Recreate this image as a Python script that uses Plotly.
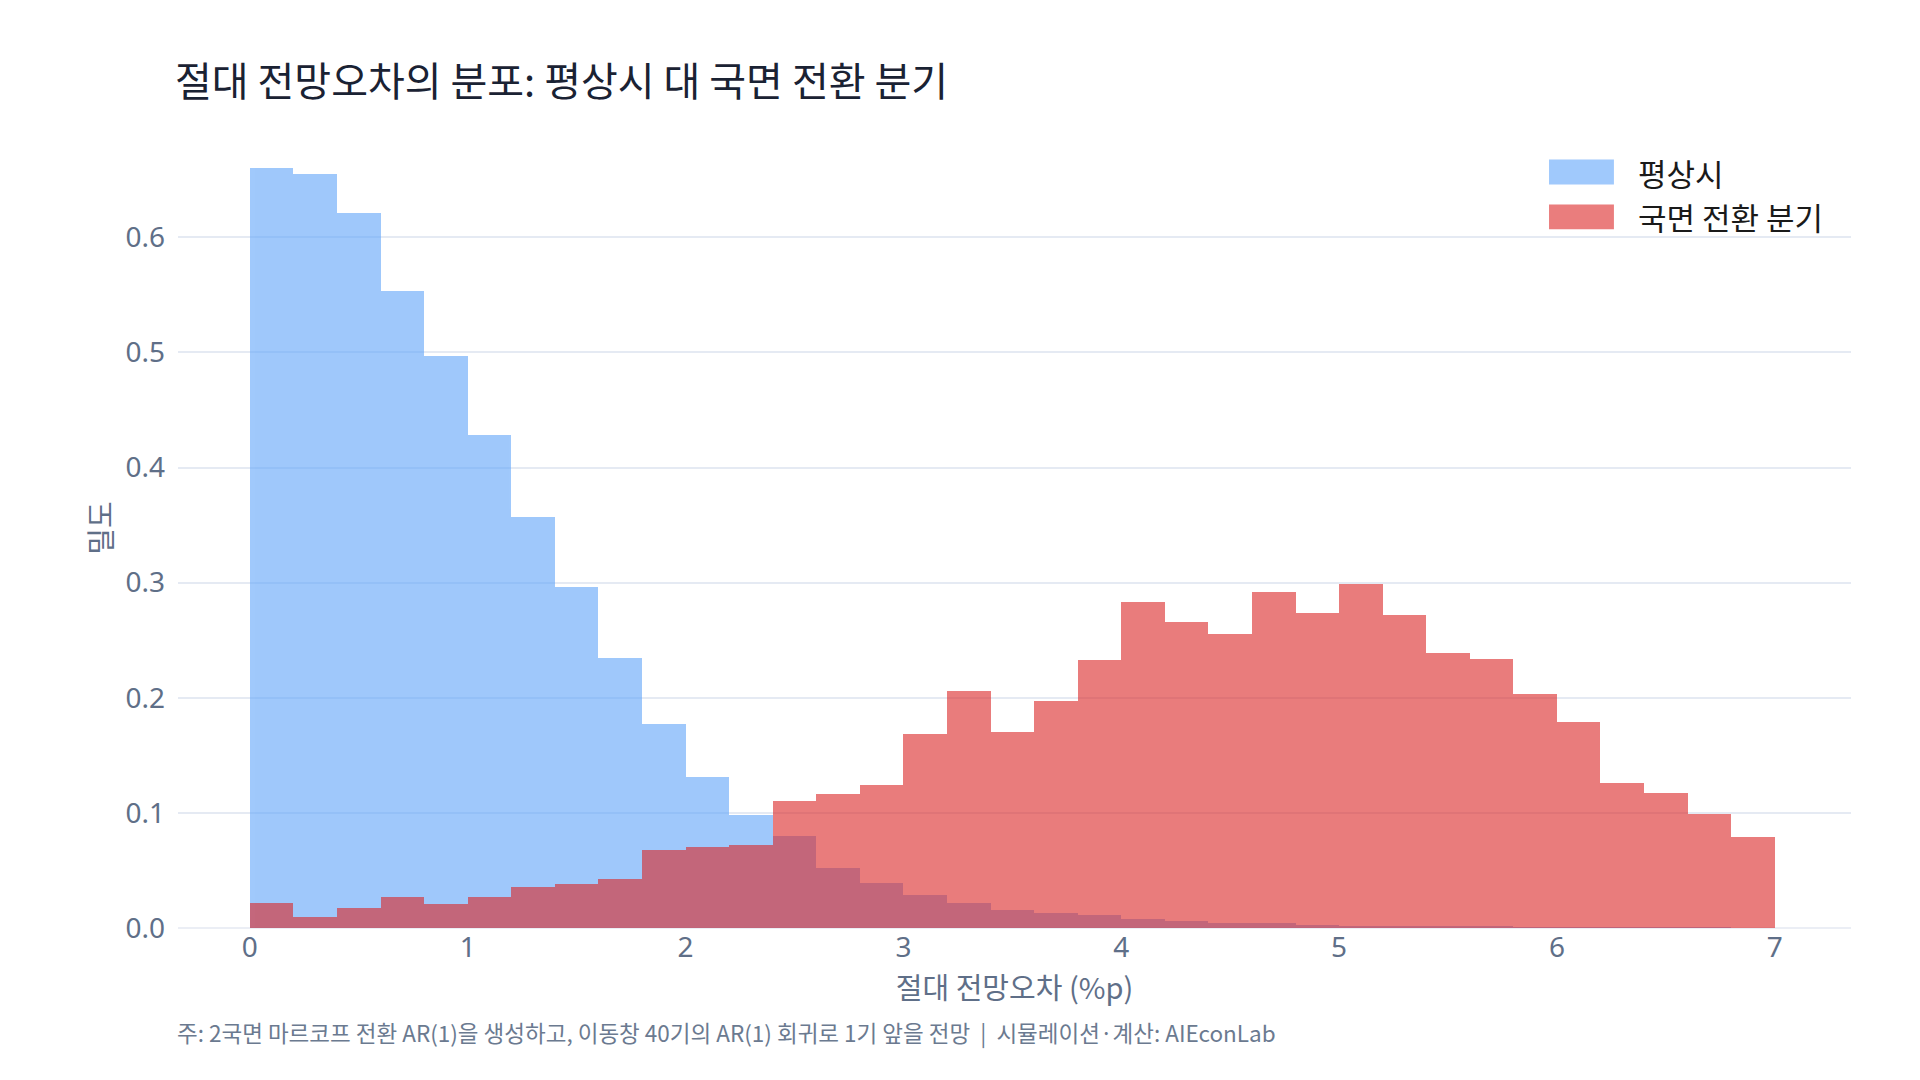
import numpy as np
import plotly.graph_objects as go

# Bin layout (0 to 7, width 0.2)
bin_start = 0.0
bin_size = 0.2
n_bins = 35
bin_left = [round(bin_start + i * bin_size, 2) for i in range(n_bins)]

# Density per bin
normal_density = [0.660, 0.655, 0.621, 0.553, 0.497, 0.428, 0.357, 0.296, 0.235, 0.177,
                  0.131, 0.098, 0.080, 0.0525, 0.0387, 0.029, 0.0214, 0.016, 0.0127, 0.011,
                  0.0075, 0.0058, 0.004, 0.004, 0.0023, 0.0015, 0.0015, 0.0012, 0.0012, 0.0006,
                  0.0005, 0.0002, 0.0001, 0.0001, 0.0]
switch_density = [0.022, 0.0093, 0.017, 0.027, 0.021, 0.027, 0.036, 0.0385, 0.043, 0.068,
                  0.070, 0.072, 0.110, 0.116, 0.124, 0.1685, 0.206, 0.170, 0.197, 0.233,
                  0.283, 0.266, 0.255, 0.292, 0.274, 0.299, 0.272, 0.239, 0.2335, 0.203,
                  0.179, 0.126, 0.1175, 0.099, 0.079]

series_names = ["평상시", "국면 전환 분기"]
series_colors = ["#60A5FA", "#DC2626"]
title_text = "절대 전망오차의 분포: 평상시 대 국면 전환 분기"
x_title = "절대 전망오차 (%p)"
y_title = "밀도"
note_text = "주: 2국면 마르코프 전환 AR(1)을 생성하고, 이동창 40기의 AR(1) 회귀로 1기 앞을 전망  |  시뮬레이션·계산: AIEconLab"

centers = [b + bin_size / 2 for b in bin_left]
OPACITY = 0.6

FONT = "Noto Sans, Noto Sans CJK KR, sans-serif"
KFONT = "Noto Sans CJK KR, Noto Sans, sans-serif"
TICK_COLOR = "#5f6f88"

fig = go.Figure()
for name, color, vals in zip(series_names, series_colors, [normal_density, switch_density]):
    fig.add_trace(go.Bar(x=centers, y=vals, width=bin_size, name=name,
                         marker=dict(color=color, line=dict(width=0)), opacity=OPACITY,
                         showlegend=False))

fig.update_layout(
    template="plotly_white",
    width=1920, height=1080,
    barmode="overlay", bargap=0,
    margin=dict(l=178, r=69, t=128, b=152),
    title=dict(text=title_text, x=175/1920, xref="container", xanchor="left",
               y=1 - 82/1080, yref="container", yanchor="middle",
               font=dict(family=KFONT, size=40, color="#1a2233")),
    font=dict(family=FONT, color=TICK_COLOR),
    showlegend=False,
)
fig.update_xaxes(range=[-0.33, 7.35], dtick=1, tick0=0, showgrid=False,
                 tickfont=dict(size=28, color=TICK_COLOR), automargin=True,
                 title=dict(text=x_title, font=dict(family=KFONT, size=29, color=TICK_COLOR), standoff=4),
                 zeroline=False)
fig.update_yaxes(range=[0, 0.695], dtick=0.1, tickformat=".1f",
                 gridcolor="#E5EAF3", gridwidth=2, automargin=True,
                 tickfont=dict(size=28, color=TICK_COLOR), ticklabelstandoff=12,
                 title=dict(text=y_title, font=dict(family=KFONT, size=29, color=TICK_COLOR), standoff=4),
                 zeroline=True, zerolinecolor="#EBEEF5", zerolinewidth=2)

# Legend (top right): wide colour swatch + label
legend_centers = [0.945, 0.8888]
sw_x0, sw_x1, sw_h = 0.8195, 0.8583, 0.031
for name, color, yc in zip(series_names, series_colors, legend_centers):
    fig.add_shape(type="rect", xref="paper", yref="paper",
                  x0=sw_x0, x1=sw_x1, y0=yc - sw_h / 2, y1=yc + sw_h / 2,
                  fillcolor=color, opacity=OPACITY, line=dict(width=0))
    fig.add_annotation(text=name, xref="paper", yref="paper", x=0.8717, y=yc,
                       xanchor="left", yanchor="middle", showarrow=False,
                       font=dict(family=KFONT, size=31, color="#1a1a1a"))

fig.add_annotation(text=note_text, xref="paper", yref="paper",
                   x=-0.002, y=-0.131, xanchor="left", yanchor="middle", showarrow=False,
                   font=dict(family=KFONT, size=22.5, color="#6b7a90"))

fig.write_html("out.html")
